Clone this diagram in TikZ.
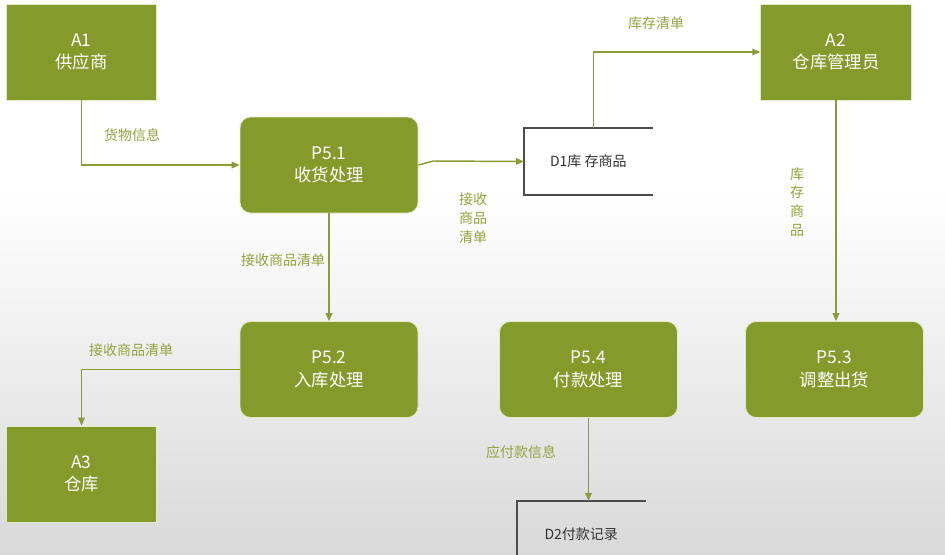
\documentclass[tikz,border=0pt]{standalone}
\usepackage{fontspec}
\setmainfont{Noto Sans CJK SC}
\usetikzlibrary{arrows.meta}

\definecolor{dfdgreen}{HTML}{849B2B}
\definecolor{flowgreen}{HTML}{8A9C35}
\definecolor{labelgreen}{HTML}{93A43C}
\definecolor{boxline}{HTML}{E4EAC8}

\begin{document}
\begin{tikzpicture}[x=0.75pt, y=-0.75pt,
  entity/.style={draw=boxline, fill=dfdgreen, text=white, line width=0.6pt,
    minimum width=113pt, minimum height=72pt, align=center,
    font=\fontsize{13}{17}\selectfont},
  process/.style={entity, rounded corners=8pt, minimum width=133.5pt},
  store/.style={minimum width=96pt, minimum height=50pt, text=black!80,
    font=\fontsize{10.5}{13}\selectfont},
  storeline/.style={draw=black!70, line width=1.1pt},
  flow/.style={draw=flowgreen, line width=1.1pt, -{Triangle[length=6pt,width=5pt]}},
  lbl/.style={text=labelgreen, align=center, font=\fontsize{10.5}{14}\selectfont}]

% background
\fill[white] (0,0) rectangle (945,554);
\shade[top color=white, bottom color=black!15] (0,190) rectangle (945,554);
\useasboundingbox (0,0) rectangle (945,554);

% external entities
\node[entity] (A1) at (81.5,52) {A1\\供应商};
\node[entity] (A2) at (836,52) {A2\\仓库管理员};
\node[entity] (A3) at (81.5,474) {A3\\仓库};

% processes
\node[process] (P51) at (329,165) {P5.1\\收货处理};
\node[process] (P52) at (329,369.5) {P5.2\\入库处理};
\node[process] (P54) at (588.5,369.5) {P5.4\\付款处理};
\node[process] (P53) at (834.5,369.5) {P5.3\\调整出货};

% data stores
\node[store, anchor=west] (D1) at (524,161.5) {D1库 存商品};
\node[store, anchor=west] (D2) at (517,534.5) {D2付款记录};
\draw[storeline] (D1.north east) -- (D1.north west) -- (D1.south west) -- (D1.south east);
\draw[storeline] (D2.north east) -- (D2.north west) -- (D2.south west);

% flows
\draw[flow] (A1.south) |- (P51.west);
\draw[flow] (P51.east) -- ++(15,-4) -- (D1.west);
\draw[flow] ([xshift=4pt]D1.north) |- (A2.west);
\draw[flow] (A2.south) -- (A2.south |- P53.north);
\draw[flow] (P51.south) -- (P52.north);
\draw[flow] (P52.west) -| (A3.north);
\draw[flow] (P54.south) -- (P54.south |- D2.north);

% flow labels
\node[lbl] (l1) at (132,135) {货物信息};
\node[lbl] (l2) at (473,218) {接收\\商品\\清单};
\node[lbl] (l3) at (656,23) {库存清单};
\node[lbl] (l4) at (797,202) {库\\存\\商\\品};
\node[lbl] (l5) at (283,260) {接收商品清单};
\node[lbl] (l6) at (131,350) {接收商品清单};
\node[lbl] (l7) at (521,452) {应付款信息};
\end{tikzpicture}
\end{document}
